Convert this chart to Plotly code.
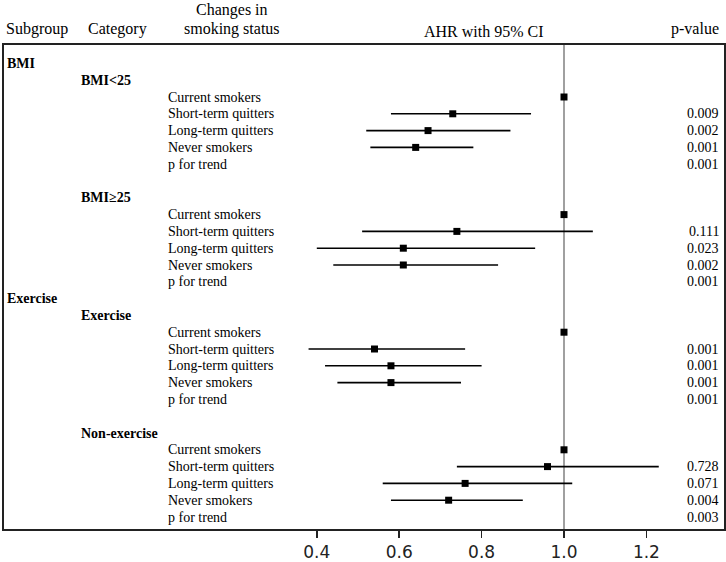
import plotly.graph_objects as go

# ---------------- data ----------------
subgroups = ["BMI", "Exercise"]
categories = [["BMI<25", "BMI≥25"], ["Exercise", "Non-exercise"]]
statuses = ["Current smokers", "Short-term quitters", "Long-term quitters",
            "Never smokers", "p for trend"]

# per category (order: BMI<25, BMI≥25, Exercise, Non-exercise); per status (current, short, long, never)
ahr_values = [
    [1.00, 0.73, 0.67, 0.64],
    [1.00, 0.74, 0.61, 0.61],
    [1.00, 0.54, 0.58, 0.58],
    [1.00, 0.96, 0.76, 0.72],
]
ci_lower = [
    [1.00, 0.58, 0.52, 0.53],
    [1.00, 0.51, 0.40, 0.44],
    [1.00, 0.38, 0.42, 0.45],
    [1.00, 0.74, 0.56, 0.58],
]
ci_upper = [
    [1.00, 0.92, 0.87, 0.78],
    [1.00, 1.07, 0.93, 0.84],
    [1.00, 0.76, 0.80, 0.75],
    [1.00, 1.23, 1.02, 0.90],
]
# p-values for (current, short, long, never, p for trend)
p_values = [
    ["", "0.009", "0.002", "0.001", "0.001"],
    ["", "0.111", "0.023", "0.002", "0.001"],
    ["", "0.001", "0.001", "0.001", "0.001"],
    ["", "0.728", "0.071", "0.004", "0.003"],
]
tick_values = [0.4, 0.6, 0.8, 1.0, 1.2]
tick_labels = ["0.4", "0.6", "0.8", "1.0", "1.2"]

# ---------------- layout geometry ----------------
W, H = 726, 562
ML, MR, MT, MB = 3, 1, 44, 32
PW = W - ML - MR
PH = H - MT - MB
PAD = 2  # annotation inner padding


def px(xpix, anchor="left"):
    if anchor == "left":
        xpix -= PAD
    elif anchor == "right":
        xpix += PAD
    return (xpix - ML) / PW


def py(ypix):
    return (H - MB - ypix) / PH


SERIF = "Liberation Serif, Times New Roman, serif"

# assign rows
rows_sub = []      # (row, text)
rows_cat = []      # (row, text)
rows_stat = []     # (row, text, p)
pts_y, pts_x, err_p, err_m = [], [], [], []
row = 0
ci = 0
for gi, g in enumerate(subgroups):
    rows_sub.append((row, g))
    row += 1
    for k, cat in enumerate(categories[gi]):
        if k > 0:
            row += 1  # blank line between categories
        rows_cat.append((row, cat))
        row += 1
        for si, st in enumerate(statuses):
            rows_stat.append((row, st, p_values[ci][si]))
            if si < 4:
                v = ahr_values[ci][si]
                pts_x.append(v)
                pts_y.append(row)
                err_p.append(ci_upper[ci][si] - v)
                err_m.append(v - ci_lower[ci][si])
            row += 1
        ci += 1

row_h = 16.8
row0_pix = 63.4
y_top = -(row0_pix - MT) / row_h
y_bot = (H - MB - row0_pix) / row_h

fig = go.Figure()
fig.add_trace(go.Scatter(
    x=pts_x, y=pts_y, mode="markers",
    marker=dict(symbol="square", size=7, color="black"),
    error_x=dict(type="data", symmetric=False, array=err_p, arrayminus=err_m,
                 thickness=1.6, width=0, color="black"),
    showlegend=False, hoverinfo="skip",
))

ann = []
for r, t in rows_sub:
    ann.append(dict(x=px(7), y=r, xref="paper", yref="y", text="<b>%s</b>" % t,
                    xanchor="left", yanchor="middle", showarrow=False,
                    font=dict(family=SERIF, size=14, color="black")))
for r, t in rows_cat:
    ann.append(dict(x=px(81), y=r, xref="paper", yref="y", text="<b>%s</b>" % t,
                    xanchor="left", yanchor="middle", showarrow=False,
                    font=dict(family=SERIF, size=14, color="black")))
for r, t, p in rows_stat:
    ann.append(dict(x=px(168), y=r, xref="paper", yref="y", text=t,
                    xanchor="left", yanchor="middle", showarrow=False,
                    font=dict(family=SERIF, size=14, color="black")))
    if p:
        ann.append(dict(x=px(719, "right"), y=r, xref="paper", yref="y", text=p,
                        xanchor="right", yanchor="middle", showarrow=False,
                        font=dict(family=SERIF, size=14, color="black")))

headers = [
    ("Subgroup", 6, 29, "left"),
    ("Category", 88, 29, "left"),
    ("Changes in", 232, 10, "center"),
    ("smoking status", 232, 29, "center"),
    ("AHR with 95% CI", 484, 32, "center"),
    ("p-value", 719, 29, "right"),
]
for t, xp, yp, anc in headers:
    ann.append(dict(x=px(xp, anc), y=py(yp), xref="paper", yref="paper", text=t,
                    xanchor=anc, yanchor="middle", showarrow=False,
                    font=dict(family=SERIF, size=16, color="black")))

shapes = [
    dict(type="line", xref="x", yref="paper", x0=1.0, x1=1.0, y0=0, y1=1,
         line=dict(color="#808080", width=1.5), layer="below"),
    dict(type="rect", xref="paper", yref="paper", x0=0, x1=1, y0=0, y1=1,
         line=dict(color="#222222", width=2)),
]

x_left = 1 + (ML - 564) / 412.0
x_right = 1 + (W - MR - 564) / 412.0

fig.update_layout(
    width=W, height=H,
    margin=dict(l=ML, r=MR, t=MT, b=MB, pad=0),
    paper_bgcolor="white", plot_bgcolor="white",
    xaxis=dict(range=[x_left, x_right], showgrid=False, zeroline=False,
               showline=False, tickvals=tick_values, ticktext=tick_labels,
               ticks="outside", ticklen=7, tickwidth=1.5, tickcolor="#222222",
               tickfont=dict(family="DejaVu Sans", size=17, color="#222222")),
    yaxis=dict(range=[y_bot, y_top], showgrid=False, zeroline=False,
               showline=False, showticklabels=False, ticks=""),
    annotations=ann, shapes=shapes,
)

fig.write_html(
    "out.html",
    config={"displayModeBar": False, "staticPlot": True},
    post_script="document.body.style.margin='0';document.body.style.padding='0';"
                "document.body.style.overflow='hidden';",
)
